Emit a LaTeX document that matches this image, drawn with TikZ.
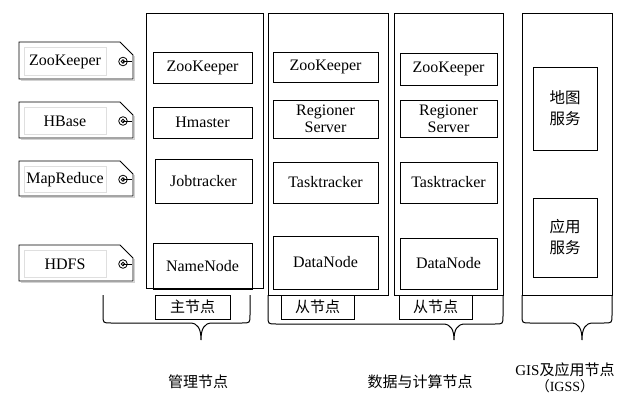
\documentclass[tikz,border=0pt]{standalone}
\usepackage{fontspec}
\setmainfont{Liberation Serif}
\newfontfamily\cjk{Noto Sans CJK SC}
\begin{document}
\begin{tikzpicture}[x=1pt,y=-1pt,
  col/.style={draw, line width=1pt},
  box/.style={draw, line width=0.9pt, inner sep=0pt, align=center,
    font=\fontsize{16}{17}\selectfont},
  cbox/.style={draw, line width=0.9pt, inner sep=0pt, align=center,
    font=\cjk\fontsize{15.5}{21}\selectfont},
  tagshape/.style={draw, line width=0.9pt, fill=white},
  tagtext/.style={draw=gray!25, line width=0.5pt, inner sep=0pt, minimum width=82pt,
    font=\fontsize{16}{17}\selectfont},
  br/.style={draw, line width=1pt},
  lbl/.style={font=\cjk\fontsize{15}{17}\selectfont, inner sep=0pt}
]
\useasboundingbox (0,0) rectangle (625,396);

% ---- tags on the left ----
\foreach \nm/\ya/\yb/\tx in {tz/42/79/ZooKeeper, th/102/138/HBase, tm/161/196/MapReduce, td/245/281/HDFS} {
  \draw[gray!35, line width=1.2pt] (21,\yb+1.5) -- (134.5,\yb+1.5) -- (134.5,\ya+14);
  \draw[tagshape] (19,\ya) -- (120,\ya) -- (133,\ya+13) -- (133,\yb) -- (19,\yb) -- cycle;
  \node[tagtext, minimum height={\yb-\ya-9}] (\nm) at (65,{(\ya+\yb)/2+1}) {\tx};
  \draw[line width=0.8pt] (123,{(\ya+\yb)/2+1}) circle[radius=4.3pt];
  \draw[line width=0.8pt] (123,{(\ya+\yb)/2+1}) circle[radius=1.8pt];
  \draw[line width=0.8pt] (123,{(\ya+\yb)/2+1}) -- (132,{(\ya+\yb)/2+1});
}

% ---- columns ----
\draw[col] (146,14) rectangle (263,288);
\draw[col] (268,14) rectangle (388,295);
\draw[col] (394,14) rectangle (503,295);
\draw[col] (522,14) rectangle (612,295);

% ---- column 1 (master) ----
\node[box, minimum width=99pt, minimum height=31pt] (zk1) at (202.5,67.5) {ZooKeeper};
\node[box, minimum width=99pt, minimum height=31pt] (hm1) at (202.5,122.5) {Hmaster};
\node[box, minimum width=97pt, minimum height=44pt] (jt1) at (203.5,181) {Jobtracker};
\node[box, minimum width=99pt, minimum height=46pt] (nn1) at (202.5,266) {NameNode};
\node[lbl, draw, line width=0.9pt, minimum width=75pt, minimum height=24pt] (m1) at (192.5,307) {主节点};

% ---- column 2 (slave) ----
\node[box, minimum width=105pt, minimum height=30pt] (zk2) at (325.5,67) {ZooKeeper};
\node[box, minimum width=105pt, minimum height=38pt] (rs2) at (325.5,119) {Regioner\\Server};
\node[box, minimum width=105pt, minimum height=41pt] (tt2) at (325.5,182.5) {Tasktracker};
\node[box, minimum width=105pt, minimum height=53pt] (dn2) at (325.5,262.5) {DataNode};
\node[lbl, draw, line width=0.9pt, minimum width=73pt, minimum height=24pt] (s2) at (317.5,307) {从节点};

% ---- column 3 (slave) ----
\node[box, minimum width=97pt, minimum height=32pt] (zk3) at (448.5,69) {ZooKeeper};
\node[box, minimum width=97pt, minimum height=37pt] (rs3) at (448.5,118.5) {Regioner\\Server};
\node[box, minimum width=97pt, minimum height=41pt] (tt3) at (448.5,182.5) {Tasktracker};
\node[box, minimum width=97pt, minimum height=51pt] (dn3) at (448.5,263.5) {DataNode};
\node[lbl, draw, line width=0.9pt, minimum width=73pt, minimum height=24pt] (s3) at (435.5,307) {从节点};

% ---- column 4 (GIS) ----
\node[cbox, minimum width=64pt, minimum height=83pt] (map) at (565,108.5) {地图\\服务};
\node[cbox, minimum width=64pt, minimum height=79pt] (app) at (565,237.5) {应用\\服务};

% ---- braces ----
\draw[br] (103,295) -- (103,315) .. controls (103,323) .. (111,323) -- (190,323)
  .. controls (198,323) and (201,329) .. (201,340)
  .. controls (201,329) and (204,323) .. (212,323) -- (242,323)
  .. controls (250,323) .. (250,315) -- (250,295);
\draw[br] (268,295) -- (268,316) .. controls (268,324) .. (276,324) -- (443,324)
  .. controls (451,324) and (454,330) .. (454,340)
  .. controls (454,330) and (457,324) .. (465,324) -- (495,324)
  .. controls (503,324) .. (503,316) -- (503,295);
\draw[br] (522,295) -- (522,315) .. controls (522,323) .. (530,323) -- (571,323)
  .. controls (579,323) and (582,329) .. (582,340)
  .. controls (582,329) and (585,323) .. (593,323) -- (604,323)
  .. controls (612,323) .. (612,315) -- (612,295);

% ---- bottom labels ----
\node[lbl] (lm) at (198,382) {管理节点};
\node[lbl] (ld) at (420,382) {数据与计算节点};
\node[inner sep=0pt, font=\fontsize{15}{17}\selectfont] (lg) at (565,370) {GIS{\cjk 及应用节点}};
\node[inner sep=0pt, font=\fontsize{14}{16}\selectfont] (lg2) at (565,386.5) {{\cjk （}IGSS{\cjk ）}};
\end{tikzpicture}
\end{document}
